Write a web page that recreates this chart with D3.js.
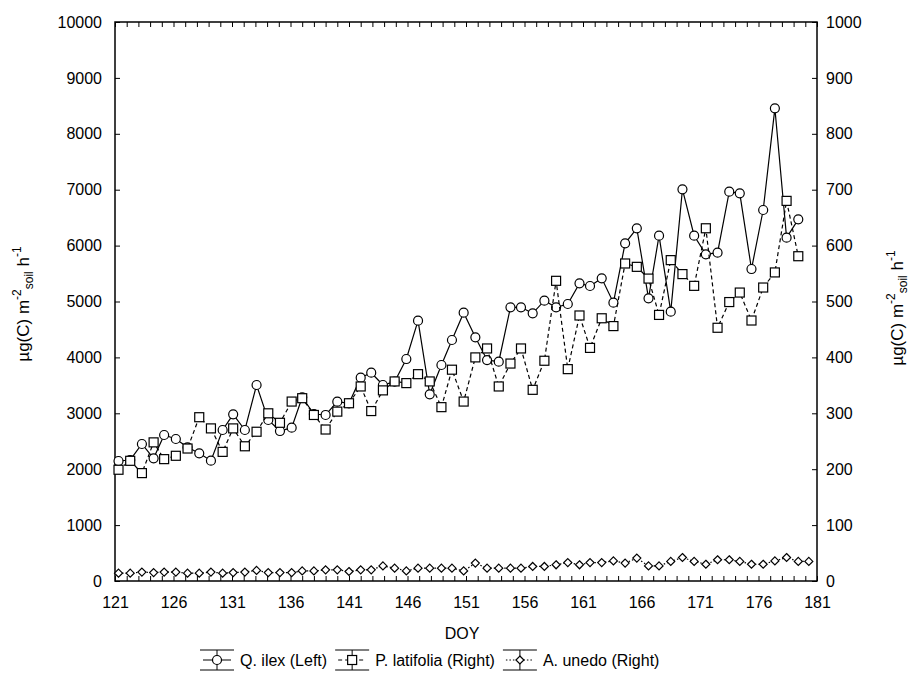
<!DOCTYPE html>
<html>
<head>
<meta charset="utf-8">
<script src="https://cdn.jsdelivr.net/npm/d3@7"></script>
<style>
  body { margin: 0; background: #fff; }
  text { font-family: "Liberation Sans", Arial, sans-serif; fill: #000; }
</style>
</head>
<body>
<script>
// sample days (DOY) for each measurement
var doy = [121.3, 122.3, 123.3, 124.3, 125.2, 126.2, 127.2, 128.2, 129.2, 130.2,
           131.1, 132.1, 133.1, 134.1, 135.1, 136.1, 137.0, 138.0, 139.0, 140.0,
           141.0, 142.0, 142.9, 143.9, 144.9, 145.9, 146.9, 147.9, 148.9, 149.8,
           150.8, 151.8, 152.8, 153.8, 154.8, 155.7, 156.7, 157.7, 158.7, 159.7,
           160.7, 161.6, 162.6, 163.6, 164.6, 165.6, 166.6, 167.5, 168.5, 169.5,
           170.5, 171.5, 172.5, 173.5, 174.4, 175.4, 176.4, 177.4, 178.4, 179.4,
           180.3];

// Q. ilex, left axis
var qIlex = [2147, 2165, 2451, 2194, 2612, 2540, 2391, 2284, 2153, 2701,
             2981, 2701, 3506, 2880, 2683, 2743, 3286, 2987, 2970, 3208,
             3178, 3637, 3726, 3506, 3566, 3971, 4657, 3340, 3864, 4311,
             4800, 4359, 3953, 3923, 4896, 4896, 4788, 5014, 4896, 4955,
             5325, 5277, 5415, 4979, 6041, 6309, 5057, 6177, 4818, 7007,
             6177, 5844, 5874, 6965, 6935, 5581, 6637, 8456, 6142, 6470];

// P. latifolia, right axis
var pLatifolia = [199, 215, 193, 248, 218, 224, 237, 293, 273, 231,
                  273, 241, 267, 300, 283, 321, 327, 297, 271, 303,
                  318, 348, 304, 341, 357, 354, 370, 357, 311, 378,
                  321, 400, 416, 348, 389, 416, 342, 394, 537, 379,
                  475, 417, 470, 456, 568, 562, 541, 476, 574, 549,
                  528, 631, 453, 499, 516, 466, 525, 552, 680, 581];

// A. unedo, right axis
var aUnedo = [14, 14, 16, 15, 16, 16, 14, 14, 16, 14,
              15, 16, 19, 15, 15, 15, 18, 18, 20, 20,
              17, 20, 20, 27, 23, 18, 23, 23, 23, 23,
              18, 32, 23, 23, 23, 23, 26, 26, 29, 33,
              29, 33, 33, 36, 32, 41, 27, 27, 35, 42,
              35, 30, 38, 38, 35, 30, 30, 36, 42, 35,
              35];

var xTicks = [121, 126, 131, 136, 141, 146, 151, 156, 161, 166, 171, 176, 181];
var yLeftTicks = [0, 1000, 2000, 3000, 4000, 5000, 6000, 7000, 8000, 9000, 10000];
var yRightTicks = [0, 100, 200, 300, 400, 500, 600, 700, 800, 900, 1000];
var legendNames = ["Q. ilex (Left)", "P. latifolia (Right)", "A. unedo (Right)"];

var width = 910, height = 693;
var plotL = 115, plotR = 817, plotT = 22, plotB = 581;
var fs = 16;

var svg = d3.select("body").append("svg")
  .attr("width", width)
  .attr("height", height);

var x = d3.scaleLinear().domain([121, 181]).range([plotL, plotR]);
var yL = d3.scaleLinear().domain([0, 10000]).range([plotB, plotT]);
var yR = d3.scaleLinear().domain([0, 1000]).range([plotB, plotT]);

// day ticks, top and bottom, pointing in
svg.append("g")
  .attr("transform", "translate(0," + plotB + ")")
  .call(d3.axisBottom(x).tickValues(d3.range(121, 182)).tickSize(-5).tickFormat(""))
  .call(g => g.select(".domain").remove());
svg.append("g")
  .attr("transform", "translate(0," + plotT + ")")
  .call(d3.axisTop(x).tickValues(d3.range(121, 182)).tickSize(-5).tickFormat(""))
  .call(g => g.select(".domain").remove());

svg.append("g")
  .attr("transform", "translate(0," + plotB + ")")
  .call(d3.axisBottom(x).tickValues(xTicks).tickSize(0).tickPadding(16))
  .call(g => g.select(".domain").remove())
  .selectAll("text").style("font-size", fs + "px");

svg.append("g")
  .attr("transform", "translate(" + plotL + ",0)")
  .call(d3.axisLeft(yL).tickValues(yLeftTicks).tickSize(-5).tickPadding(13).tickFormat(d3.format("d")))
  .call(g => g.select(".domain").remove())
  .selectAll("text").style("font-size", fs + "px");

svg.append("g")
  .attr("transform", "translate(" + plotR + ",0)")
  .call(d3.axisRight(yR).tickValues(yRightTicks).tickSize(-5).tickPadding(9).tickFormat(d3.format("d")))
  .call(g => g.select(".domain").remove())
  .selectAll("text").style("font-size", fs + "px");

svg.append("rect")
  .attr("x", plotL).attr("y", plotT)
  .attr("width", plotR - plotL).attr("height", plotB - plotT)
  .attr("fill", "none")
  .attr("stroke", "#000")
  .attr("stroke-width", 1.5);

// axis titles
svg.append("text")
  .attr("x", 462)
  .attr("y", 639)
  .attr("text-anchor", "middle")
  .style("font-size", "16px")
  .text("DOY");

function yTitle(tx, ty) {
  var t = svg.append("text")
    .attr("transform", "translate(" + tx + "," + ty + ") rotate(-90)")
    .attr("text-anchor", "middle")
    .style("font-size", "17px");
  t.append("tspan").text("\u00b5g(C) m");
  t.append("tspan").attr("dy", -8).style("font-size", "12px").text("-2");
  t.append("tspan").attr("dy", 12).style("font-size", "12px").text("soil");
  t.append("tspan").attr("dy", -4).text(" h");
  t.append("tspan").attr("dy", -8).style("font-size", "12px").text("-1");
}
yTitle(29, 304);
yTitle(903, 308);

// series
var series = [
  { name: legendNames[0], vals: qIlex, y: yL, dash: null, shape: "circle" },
  { name: legendNames[1], vals: pLatifolia, y: yR, dash: "4,3", shape: "square" },
  { name: legendNames[2], vals: aUnedo, y: yR, dash: "1.5,2", shape: "diamond" }
];

function marker(g, shape) {
  if (shape == "circle") {
    g.append("circle").attr("r", 4.5);
  } else if (shape == "square") {
    g.append("rect").attr("x", -4.5).attr("y", -4.5).attr("width", 9).attr("height", 9);
  } else {
    g.append("path").attr("d", "M0,-4L4,0L0,4L-4,0Z");
  }
  g.selectAll("*").attr("fill", "#fff").attr("stroke", "#000").attr("stroke-width", 1.2);
}

series.forEach(function(s) {
  var pts = s.vals.map(function(v, i) { return [doy[i], v]; });
  var line = d3.line()
    .x(function(d) { return x(d[0]); })
    .y(function(d) { return s.y(d[1]); });

  svg.append("path")
    .datum(pts)
    .attr("d", line)
    .attr("fill", "none")
    .attr("stroke", "#000")
    .attr("stroke-width", 1.2)
    .attr("stroke-dasharray", s.dash);

  svg.selectAll(null)
    .data(pts)
    .enter()
    .append("g")
    .attr("transform", function(d) { return "translate(" + x(d[0]) + "," + s.y(d[1]) + ")"; })
    .each(function() { marker(d3.select(this), s.shape); });
});

// legend, laid out left to right
var legend = svg.append("g").attr("transform", "translate(200,660)");
var lx = 0;
series.forEach(function(s) {
  var g = legend.append("g").attr("transform", "translate(" + lx + ",0)");
  var cx = 17;
  g.append("line").attr("x1", 0).attr("x2", 34).attr("y1", -10).attr("y2", -10).attr("stroke", "#000");
  g.append("line").attr("x1", 0).attr("x2", 34).attr("y1", 10).attr("y2", 10).attr("stroke", "#000");
  g.append("line").attr("x1", cx).attr("x2", cx).attr("y1", -10).attr("y2", 10).attr("stroke", "#000");
  g.append("line").attr("x1", 3).attr("x2", 31).attr("y1", 0).attr("y2", 0)
    .attr("stroke", "#000").attr("stroke-dasharray", s.dash);
  var m = g.append("g").attr("transform", "translate(" + cx + ",0)");
  marker(m, s.shape);
  var t = g.append("text").attr("x", 40).attr("y", 6).style("font-size", "16px").text(s.name);
  lx += 40 + t.node().getComputedTextLength() + 8;
});
</script>
</body>
</html>
